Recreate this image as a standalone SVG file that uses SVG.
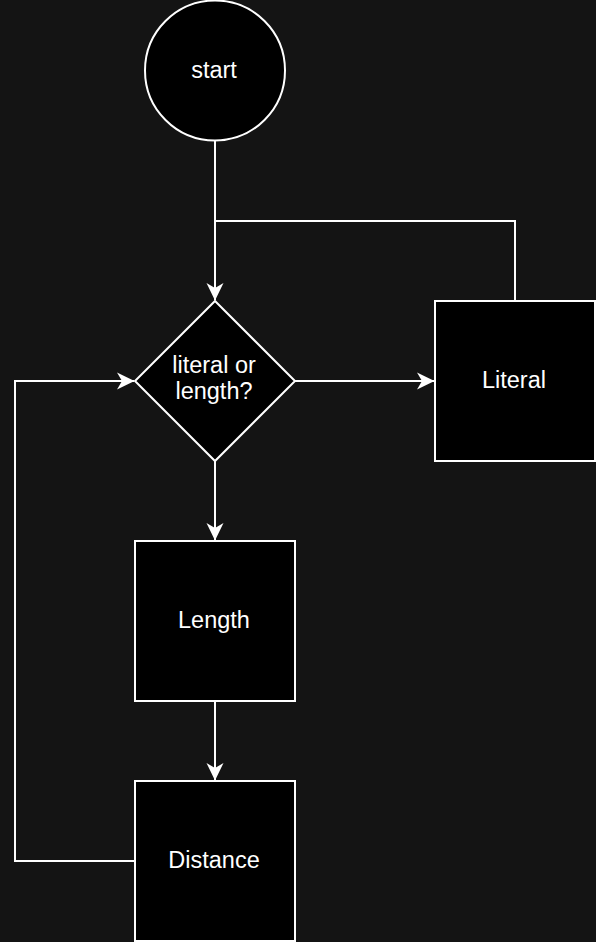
<svg xmlns="http://www.w3.org/2000/svg" width="596" height="942" viewBox="0 0 596 942">
<style>
.node{fill:#000;stroke:#fff;stroke-width:2}
.edge{fill:none;stroke:#fff;stroke-width:2}
.lbl{fill:#fff;font-family:"Liberation Sans",Arial,sans-serif;font-size:23.5px;text-anchor:middle}
</style>
<defs>
<marker id="arr" viewBox="0 0 18 18" refX="17" refY="9" markerWidth="18" markerHeight="18" markerUnits="userSpaceOnUse" orient="auto">
<path d="M0,0.5 L17.5,9 L0,17.5 L5,9 Z" fill="#fff"/>
</marker>
</defs>
<rect width="596" height="942" fill="#141414"/>
<g id="connectors">
<path class="edge" d="M215,141 V300" marker-end="url(#arr)"/>
<path class="edge" d="M515,301 V221 H215"/>
<path class="edge" d="M295,381 H434" marker-end="url(#arr)"/>
<path class="edge" d="M215,461 V540" marker-end="url(#arr)"/>
<path class="edge" d="M215,701 V780" marker-end="url(#arr)"/>
<path class="edge" d="M135,861 H15 V381 H134" marker-end="url(#arr)"/>
</g>
<g id="start">
<circle class="node" cx="215" cy="70.5" r="70"/>
<text class="lbl" x="214" y="78">start</text>
</g>
<g id="decision">
<path class="node" d="M215,301 L295,381 L215,461 L135,381 Z"/>
<text class="lbl" x="214" y="373">literal or</text>
<text class="lbl" x="214" y="398.5">length?</text>
</g>
<g id="literal">
<rect class="node" x="435" y="301" width="160" height="160"/>
<text class="lbl" x="514" y="388">Literal</text>
</g>
<g id="length">
<rect class="node" x="135" y="541" width="160" height="160"/>
<text class="lbl" x="214" y="628">Length</text>
</g>
<g id="distance">
<rect class="node" x="135" y="781" width="160" height="160"/>
<text class="lbl" x="214" y="868">Distance</text>
</g>
</svg>
